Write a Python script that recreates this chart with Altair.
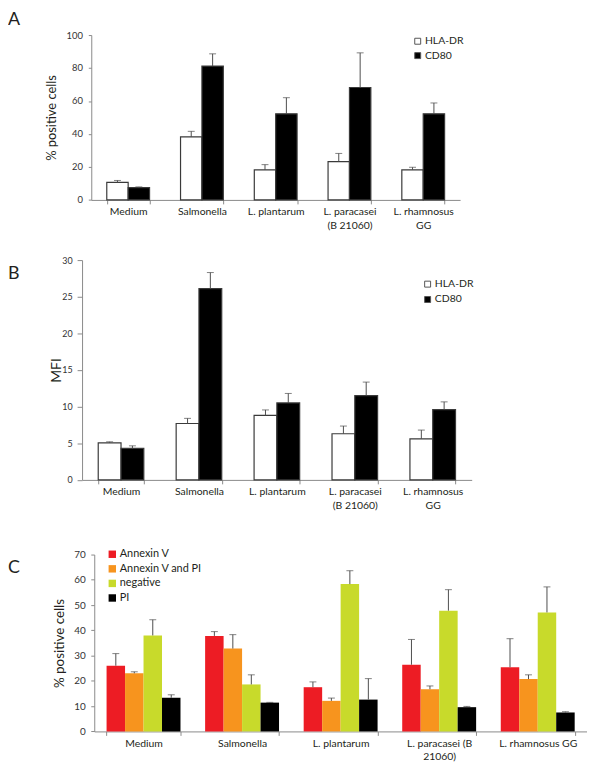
import altair as alt
import pandas as pd

FONT = "Lato"
INK = "#231f20"
ORIGIN = 95  # common left edge of the plot groups (page px)

categories = ["Medium", "Salmonella", "L. plantarum", "L. paracasei (B 21060)", "L. rhamnosus GG"]
label_lines_ab = [["Medium"], ["Salmonella"], ["L. plantarum"], ["L. paracasei", "(B 21060)"], ["L. rhamnosus", "GG"]]
label_lines_c = [["Medium"], ["Salmonella"], ["L. plantarum"], ["L. paracasei (B", "21060)"], ["L. rhamnosus GG"]]
panel_letters = ["A", "B", "C"]

markers = ["HLA-DR", "CD80"]
# Panel A: % positive cells
pct_hla = [10.6, 38.2, 18.2, 23.2, 18.2]
pct_hla_err = [1.2, 3.4, 3.2, 5.0, 1.6]
pct_cd80 = [7.4, 81.2, 52.2, 68.2, 52.2]
pct_cd80_err = [0.5, 7.4, 9.8, 21.0, 6.6]
# Panel B: MFI
mfi_hla = [5.05, 7.7, 8.8, 6.3, 5.6]
mfi_hla_err = [0.15, 0.7, 0.75, 1.05, 1.2]
mfi_cd80 = [4.3, 26.1, 10.5, 11.5, 9.6]
mfi_cd80_err = [0.35, 2.2, 1.3, 1.85, 1.05]
# Panel C: apoptosis staining
stains = ["Annexin V", "Annexin V and PI", "negative", "PI"]
stain_colors = ["#ED1C24", "#F7941E", "#C8DA2B", "#000000"]
annexin = [26.0, 37.8, 17.5, 26.4, 25.4]
annexin_err = [4.8, 1.7, 2.1, 10.0, 11.3]
annexin_pi = [23.0, 32.8, 12.1, 16.7, 20.7]
annexin_pi_err = [0.6, 5.5, 1.1, 1.3, 1.7]
negative = [38.0, 18.6, 58.3, 47.8, 47.1]
negative_err = [6.2, 3.8, 5.3, 8.3, 10.1]
pi = [13.3, 11.4, 12.6, 9.6, 7.5]
pi_err = [1.2, 0.1, 8.3, 0.3, 0.3]


def long_df(series_names, values, errs):
    rows = []
    for s, vals, es in zip(series_names, values, errs):
        for c, v, e in zip(categories, vals, es):
            rows.append({"category": c, "series": s, "value": v, "upper": v + e})
    return pd.DataFrame(rows)


def label_expr(lines):
    expr = ""
    for cat, ls in zip(categories, lines):
        arr = "[" + ",".join("'" + s + "'" for s in ls) + "]"
        expr += f"datum.value == '{cat}' ? {arr} : "
    return expr + "datum.label"


def panel(df, letter, ox, W, H, ymax, ystep, pad_in, pad_out, lines, series_order, colors,
          ytitle, title_x, title_size, letter_y, leg_x, leg_y, leg_font,
          sym_size, sym_stroke, row_pad, ylab_size, ylab_pad, ytick, bar_stroke):
    shift = ORIGIN - ox
    x = alt.X("category:N", sort=categories, title=None,
              scale=alt.Scale(paddingInner=pad_in, paddingOuter=pad_out,
                              range=[-shift, W - shift]),
              axis=alt.Axis(tickBand="extent", labelAngle=0, labelExpr=label_expr(lines),
                            labelFontSize=10.5, labelColor=INK, labelPadding=3,
                            labelLineHeight=13.5, labelOverlap=False, labelFont=FONT,
                            domainColor="#8a8a8a", tickColor="#8a8a8a", tickSize=4))
    xo = alt.XOffset("series:N", sort=series_order, scale=alt.Scale(paddingInner=0, paddingOuter=0))
    yaxis = alt.Axis(values=list(range(0, ymax + 1, ystep)), grid=False, title=ytitle,
                     offset=shift,
                     titleFontSize=title_size, titleFontWeight="normal", titleColor=INK,
                     titleFont=FONT, titleX=title_x, titleY=H / 2, titleBaseline="middle",
                     titleAngle=270, labelOverlap=False, labelFlush=False,
                     labelFontSize=ylab_size, labelColor="#333333", labelPadding=ylab_pad,
                     labelFont=FONT, domainColor="#8a8a8a", tickColor="#8a8a8a",
                     tickSize=ytick)
    yscale = alt.Scale(domain=[0, ymax], nice=False, zero=True)
    fill = alt.Fill("series:N", sort=series_order,
                    scale=alt.Scale(domain=series_order, range=colors),
                    legend=alt.Legend(orient="none", legendX=leg_x - ORIGIN, legendY=leg_y,
                                      title=None, symbolType="square", symbolSize=sym_size,
                                      symbolStrokeColor="#555555", symbolStrokeWidth=sym_stroke,
                                      labelFontSize=leg_font, labelColor=INK, labelFont=FONT,
                                      labelOffset=2, rowPadding=row_pad, padding=0))
    base = alt.Chart(df)
    bar_kwargs = {"stroke": "#3a3a3a", "strokeWidth": 1.2} if bar_stroke else {"strokeWidth": 0}
    bars = base.mark_bar(**bar_kwargs).encode(
        x=x, xOffset=xo, y=alt.Y("value:Q", scale=yscale, axis=yaxis), fill=fill)
    err = base.mark_rule(color="#4d4d4d", strokeWidth=1).encode(
        x=x, xOffset=xo, y=alt.Y("value:Q", scale=yscale, axis=yaxis), y2="upper:Q")
    cap = base.mark_tick(orient="horizontal", color="#4d4d4d", size=7, thickness=1).encode(
        x=x, xOffset=xo, y=alt.Y("upper:Q", scale=yscale, axis=yaxis))
    let = alt.Chart(pd.DataFrame({"letter": [letter]})).mark_text(
        align="left", baseline="middle", fontSize=18, font=FONT, color=INK).encode(
        x=alt.value(8 - ORIGIN), y=alt.value(letter_y), text="letter:N")
    return alt.layer(bars, err, cap, let).properties(width=W - shift, height=H)


df_a = long_df(markers, [pct_hla, pct_cd80], [pct_hla_err, pct_cd80_err])
df_b = long_df(markers, [mfi_hla, mfi_cd80], [mfi_hla_err, mfi_cd80_err])
df_c = long_df(stains, [annexin, annexin_pi, negative, pi],
               [annexin_err, annexin_pi_err, negative_err, pi_err])

pa = panel(df_a, panel_letters[0], 92, 372, 166.3, 100, 20, 0.42, 0.21, label_lines_ab, markers,
           ["#ffffff", "#000000"], "% positive cells", -40, 13, -15, 416, 1.0, 10.5,
           36, 1, 3.5, 9.5, 6, 3, True)
pb = panel(df_b, panel_letters[1], 82.7, 393, 221.7, 30, 5, 0.415, 0.2075, label_lines_ab, markers,
           ["#ffffff", "#000000"], "MFI", -26, 14, 13.7, 426, 19.0, 10.5,
           36, 1, 4.5, 9, 5, 5, True)
pc = panel(df_c, panel_letters[2], 95, 497, 178.4, 70, 10, 0.25, 0.125, label_lines_c, stains,
           stain_colors, "% positive cells", -35, 13.5, 13.7, 107.7, -5.8, 11,
           56, 0, 2.7, 10, 5.5, 3.5, False)

top = alt.vconcat(pa, pb, spacing=25).resolve_scale(
    fill="independent", x="independent", y="independent", xOffset="independent")
chart = alt.vconcat(top, pc, spacing=38).resolve_scale(
    fill="independent", x="independent", y="independent", xOffset="independent"
).properties(padding=0).configure(font=FONT).configure_view(stroke=None).configure_axisY(
    labelOverlap=False)

chart.save("out.html", embed_options={"renderer": "svg", "actions": False})
